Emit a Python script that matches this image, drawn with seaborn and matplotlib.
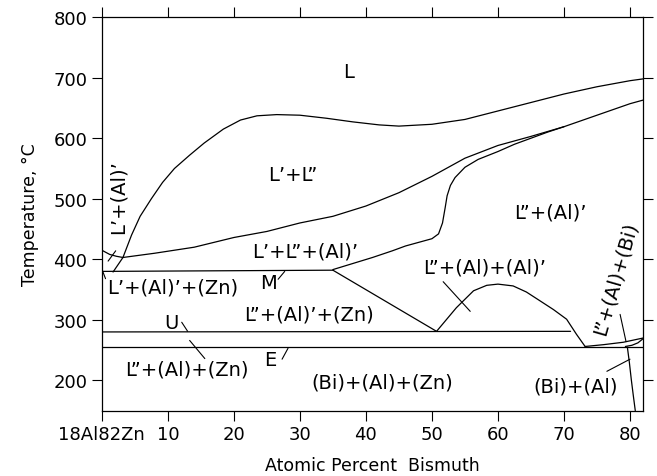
import matplotlib
matplotlib.use("Agg")
import pandas as pd
import seaborn as sns
import matplotlib.pyplot as plt

# Phase boundaries (atomic percent Bi, temperature in C)
dome_x = [1.7, 3.2, 4.5, 5.8, 7.5, 9.2, 11, 13.3, 15.5, 18.4, 21, 23.5, 26.5, 30, 34, 38, 42, 45, 50, 55, 60, 65, 70, 75, 80, 82]
dome_t = [379, 403, 440, 471, 500, 527, 550, 572, 592, 615, 630, 637, 639, 638, 633, 627, 622, 620, 623, 631, 645, 659, 673, 685, 695, 698]

lower_x = [3.2, 8, 14, 20, 25, 30, 35, 40, 45, 50, 55, 60, 65, 70, 75, 80, 82]
lower_t = [403, 410, 420, 436, 446, 460, 471, 488, 510, 537, 567, 588, 603, 619, 638, 657, 663]

al_x = [35, 38, 41, 44, 46, 48, 50, 51, 51.6, 52, 52.3, 52.8, 53.5, 55, 57, 60, 62.5, 65, 67.5, 70]
al_t = [383, 393, 403, 414, 422, 428, 434, 442, 460, 485, 505, 522, 535, 552, 565, 578, 590, 600, 610, 619]

left_x = [0, 1.2, 2.2, 3.2]
left_t = [415, 408, 405, 403]

mono_x = [0, 35]
mono_t = [380, 382]

u_x = [0, 71]
u_t = [280, 281]

e_x = [0, 82]
e_t = [255, 255]

v_x = [35, 50.7, 53.7, 56.3, 58.3, 60, 62.3, 64.3, 66, 68.4, 70.4, 71.9, 73.2]
v_t = [382, 281, 320, 348, 357, 359, 356, 346, 334, 317, 301, 276, 256]

bi1_x = [73.2, 76, 79, 82]
bi1_t = [256, 259, 263, 270]

bi2_x = [79.3, 80.3, 81.2, 82]
bi2_t = [256, 258, 262, 269]

solvus_x = [79.6, 79.9, 80.2, 80.5, 80.8]
solvus_t = [255, 230, 201, 175, 150]

# leader lines: x0, t0, x1, t1
leaders = [
    (0.95, 397, 2.1, 414),
    (0.1, 381, 0.56, 368),
    (26.7, 367, 27.7, 380),
    (12.1, 296, 13.0, 281),
    (13.3, 266, 15.6, 236),
    (27.3, 235, 28.2, 253),
    (51.7, 363, 55.8, 314),
    (78.5, 309, 79.4, 264),
    (76.5, 215, 80.0, 235),
]

labels = ["L", "L’+L”", "L’+L”+(Al)’", "M", "L’+(Al)’+(Zn)", "L”+(Al)’+(Zn)",
          "U", "L”+(Al)+(Zn)", "E", "(Bi)+(Al)+(Zn)", "L”+(Al)’",
          "L”+(Al)+(Al)’", "(Bi)+(Al)", "L’+(Al)’", "L”+(Al)+(Bi)"]
label_x = [37.4, 29, 30.8, 25.2, 10.8, 31.4, 10.6, 12.9, 25.5, 42.4, 67.9, 58, 71.7, 2.4, 77.8]
label_t = [711, 540, 413, 362, 354, 309, 296, 218, 235, 197, 478, 387, 191, 505, 369]
label_rot = [0, 0, 0, 0, 0, 0, 0, 0, 0, 0, 0, 0, 0, 90, 74]

xticks = [0, 10, 20, 30, 40, 50, 60, 70, 80]
xtick_labels = ["18Al82Zn", "10", "20", "30", "40", "50", "60", "70", "80"]
yticks = [200, 300, 400, 500, 600, 700, 800]

sns.set_style("ticks")
plt.rcParams['font.family'] = ['DejaVu Sans']
plt.rcParams['text.color'] = 'black'
plt.rcParams['axes.labelcolor'] = 'black'

fig = plt.figure(figsize=(6.57, 4.77), dpi=100)
ax = fig.add_axes([0.155, 0.137, 0.824, 0.825])

curves = [(dome_x, dome_t), (lower_x, lower_t), (al_x, al_t), (left_x, left_t),
          (mono_x, mono_t), (u_x, u_t), (e_x, e_t), (v_x, v_t),
          (bi1_x, bi1_t), (bi2_x, bi2_t), (solvus_x, solvus_t)]
for cx, ct in curves:
    df = pd.DataFrame({'x': cx, 't': ct})
    sns.lineplot(data=df, x='x', y='t', sort=False, estimator=None,
                 color='black', linewidth=0.9, ax=ax)

for x0, t0, x1, t1 in leaders:
    sns.lineplot(x=[x0, x1], y=[t0, t1], sort=False, estimator=None,
                 color='black', linewidth=0.8, ax=ax)

for txt, lx, lt, rot in zip(labels, label_x, label_t, label_rot):
    ax.text(lx, lt, txt, ha='center', va='center', rotation=rot,
            fontsize=14, color='black')

ax.set_xlim(0, 82)
ax.set_ylim(150, 800)
ax.set_xticks(xticks)
ax.set_xticklabels(xtick_labels)
ax.set_yticks(yticks)
ax.tick_params(direction='out', length=7, width=0.8, top=True, right=True,
               labeltop=False, labelright=False, labelsize=13, colors='black')
for sp in ax.spines.values():
    sp.set_linewidth(0.9)
    sp.set_color('black')

ax.set_xlabel('Atomic Percent  Bismuth', fontsize=12.5, labelpad=9)
ax.set_ylabel('Temperature, °C', fontsize=12.5, labelpad=10)

fig.savefig('out.png', dpi=100)
